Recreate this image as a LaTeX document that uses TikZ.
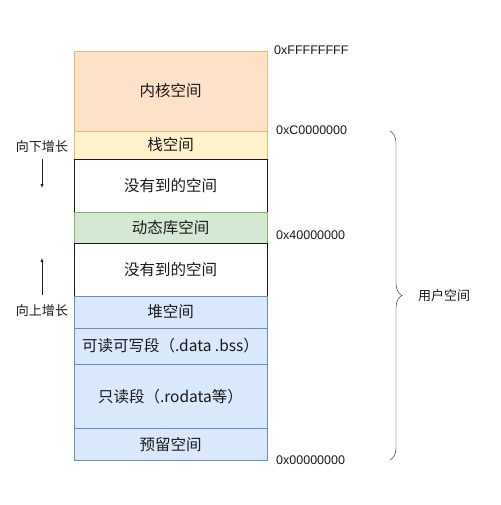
\documentclass[tikz,border=0pt]{standalone}
\usepackage{fontspec}
\setmainfont{Liberation Sans}
\newfontfamily\cjk{Noto Sans CJK SC}
\usepackage{tikz}
\usetikzlibrary{arrows,decorations.pathreplacing}
\definecolor{kernfill}{HTML}{FDE1C8}
\definecolor{kerndraw}{HTML}{E3BE72}
\definecolor{stkfill}{HTML}{FFF2CC}
\definecolor{dynfill}{HTML}{D5E8D4}
\definecolor{dyndraw}{HTML}{82B366}
\definecolor{usrfill}{HTML}{DAE8FC}
\definecolor{usrdraw}{HTML}{6C8EBF}
\definecolor{ink}{HTML}{1A1A1A}
\tikzset{
  seg/.style={rectangle,minimum width=193pt,inner sep=0pt,outer sep=0pt,line width=0.9pt,font=\cjk\fontsize{15.5}{18}\selectfont,text=ink},
  kern/.style={seg,fill=kernfill,draw=kerndraw},
  stk/.style={seg,fill=stkfill,draw=kerndraw},
  blank/.style={seg,fill=white,draw=ink},
  dyn/.style={seg,fill=dynfill,draw=dyndraw},
  usr/.style={seg,fill=usrfill,draw=usrdraw},
  addr/.style={anchor=west,inner sep=0pt,font=\fontsize{12.5}{15}\selectfont,text=ink},
  side/.style={inner sep=0pt,font=\cjk\fontsize{13}{15}\selectfont,text=ink}
}
\begin{document}
\begin{tikzpicture}[x=1pt,y=-1pt]
\useasboundingbox (0,0) rectangle (500,505);
% memory layout, top to bottom
\node [kern,minimum height=80pt] (kernel) at (170.5,91) {内核空间};
\node [stk,minimum height=28pt] (stack) at (170.5,145) {栈空间};
\node [blank,minimum height=53pt] (gapA) at (170.5,185.5) {没有到的空间};
\node [dyn,minimum height=31pt] (dynlib) at (170.5,227.5) {动态库空间};
\node [blank,minimum height=53pt] (gapB) at (170.5,269.5) {没有到的空间};
\node [usr,minimum height=32pt] (heap) at (170.5,312) {堆空间};
\node [usr,minimum height=36pt] (rwdata) at (170.5,346) {可读可写段（.data .bss）};
\node [usr,minimum height=64.5pt] (rodata) at (170.5,396.25) {只读段（.rodata等）};
\node [usr,minimum height=32pt] (reserved) at (170.5,444.5) {预留空间};
% addresses
\node [addr] (aTop) at (274,50) {0xFFFFFFFF};
\node [addr] (aC) at (276,130) {0xC0000000};
\node [addr] (a4) at (276,235) {0x40000000};
\node [addr] (aZero) at (276,460) {0x00000000};
% growth directions
\node [side] (down) at (42,147) {向下增长};
\coordinate (downEnd) at (42,188);
\draw [ink,-latex,thin] (down.south) ++(0,6) -- (downEnd);
\node [side] (up) at (42,311) {向上增长};
\coordinate (upEnd) at (42,258);
\draw [ink,-latex,thin] (up.north) ++(0,-10) -- (upEnd);
% user space brace
\coordinate (bTop) at (390,131);
\coordinate (bBot) at (390,460);
\draw [ink,thin,decorate,decoration={brace,amplitude=12pt}] (bTop) -- (bBot);
\node [side,anchor=west] (user) at (418,296) {用户空间};
\end{tikzpicture}
\end{document}
